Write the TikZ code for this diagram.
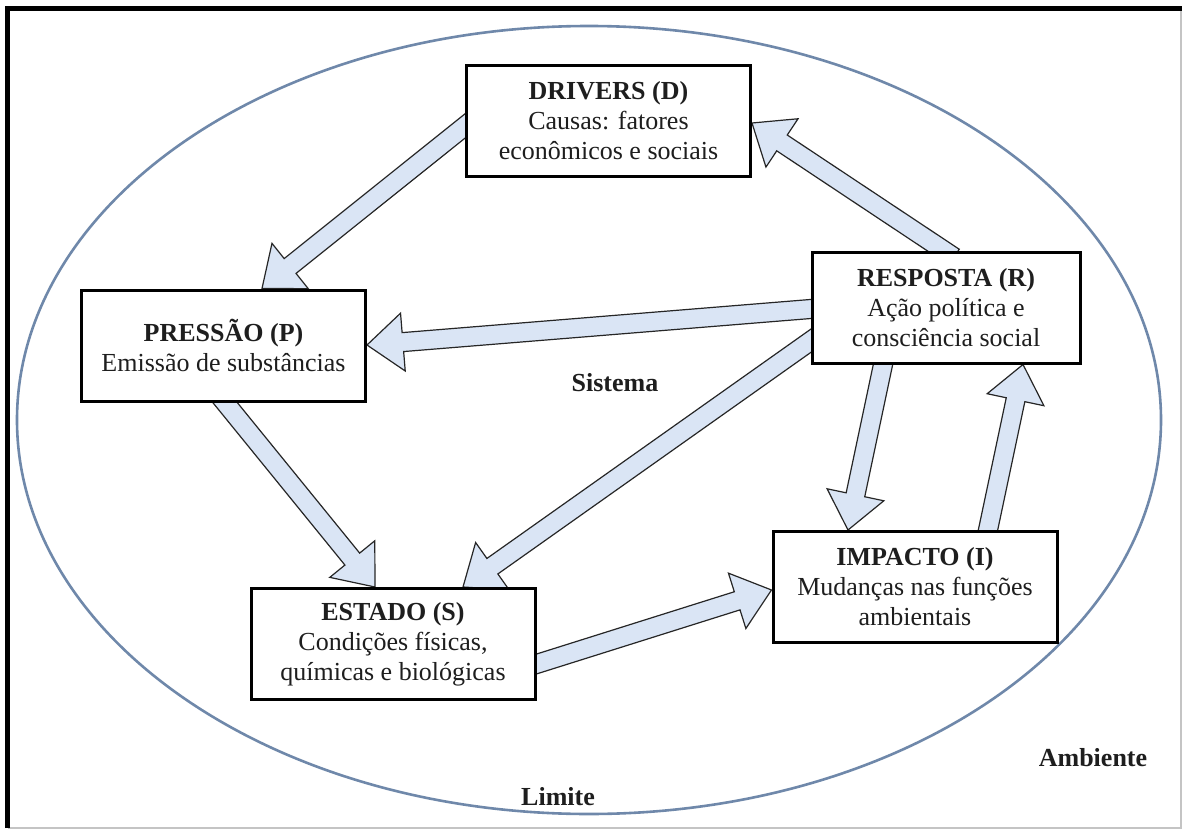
\documentclass[tikz,border=0pt]{standalone}
\usepackage{fontspec}
\setmainfont{Liberation Serif}
\usetikzlibrary{calc,backgrounds}
\definecolor{arrowblue}{HTML}{DAE5F5}
\definecolor{ringblue}{HTML}{6F88AA}
\definecolor{framegray}{HTML}{C4C4C4}
\definecolor{inktext}{HTML}{1E1E1E}
% Wide block arrow from #1 (tail) to #2 (tip); tail is pushed back under the source box
\newcommand\blockarrow[2]{%
  \coordinate (ba-t) at ($(#1)!-6pt!(#2)$);
  \coordinate (ba-h) at ($(#2)!18pt!(#1)$);
  \filldraw[flow] ($(ba-t)!4.75pt!90:(#2)$) -- ($(ba-h)!4.75pt!90:(#2)$)
    -- ($(ba-h)!14.5pt!90:(#2)$) -- (#2) -- ($(ba-h)!14.5pt!-90:(#2)$)
    -- ($(ba-h)!4.75pt!-90:(#2)$) -- ($(ba-t)!4.75pt!-90:(#2)$) -- cycle;
}
\begin{document}
\begin{tikzpicture}[x=0.5pt,y=-0.5pt,
  box/.style={draw=black, line width=1.5pt, fill=white, text=inktext,
    minimum width=142pt, minimum height=55.5pt, align=center, inner sep=0pt,
    font=\fontsize{13}{15}\selectfont},
  flow/.style={fill=arrowblue, draw=black!85, line width=0.6pt, line join=miter},
  ring/.style={draw=ringblue, line width=1.3pt},
  tag/.style={text=inktext, font=\fontsize{13}{15}\selectfont\bfseries}]
\useasboundingbox (0,0) rectangle (1184,830);

% outer frame: thin grey right/bottom, heavy black top/left
\draw[framegray, line width=0.6pt] (7.5,828) -- (1181,828) -- (1181,8.5);
\draw[black, line width=2.6pt] (7.5,828) -- (7.5,8.5) -- (1182,8.5);

% the five DPSIR boxes
\node[box] (d) at (608.5,120.5) {\textbf{DRIVERS (D)}\\Causas: fatores\\econômicos e sociais};
\node[box] (p) at (223.5,345.5) {\textbf{PRESSÃO (P)}\\Emissão de substâncias};
\node[box, minimum width=134pt] (r) at (946,307.5) {\textbf{RESPOSTA (R)}\\Ação política e\\consciência social};
\node[box] (i) at (915,587) {\textbf{IMPACTO (I)}\\Mudanças nas funções\\ambientais};
\node[box] (s) at (393,644) {\textbf{ESTADO (S)}\\Condições físicas,\\químicas e biológicas};

% free labels
\node[tag] (sis) at (615,383) {Sistema};
\node[tag] (amb) at (1093,758) {Ambiente};
\node[tag] (lim) at (558,797) {Limite};

\begin{scope}[on background layer]
  \fill[white] (0,0) rectangle (1184,830);
  % system boundary
  \draw[ring] (589,420) ellipse [x radius=286pt, y radius=197pt];
  % flows between the boxes
  \blockarrow{d.west |- 0,126}{p.north -| 262,0}
  \blockarrow{r.north -| 944,0}{d.east |- 0,123}
  \blockarrow{r.west |- 0,309}{p.east |- 0,345}
  \blockarrow{r.west |- 0,341}{s.north -| 463,0}
  \blockarrow{p.south -| 225,0}{s.north -| 375,0}
  \blockarrow{s.east |- 0,664}{i.west |- 0,590}
  \blockarrow{r.south -| 883,0}{i.north -| 848,0}
  \blockarrow{i.north -| 988,0}{r.south -| 1023,0}
\end{scope}
\end{tikzpicture}
\end{document}
